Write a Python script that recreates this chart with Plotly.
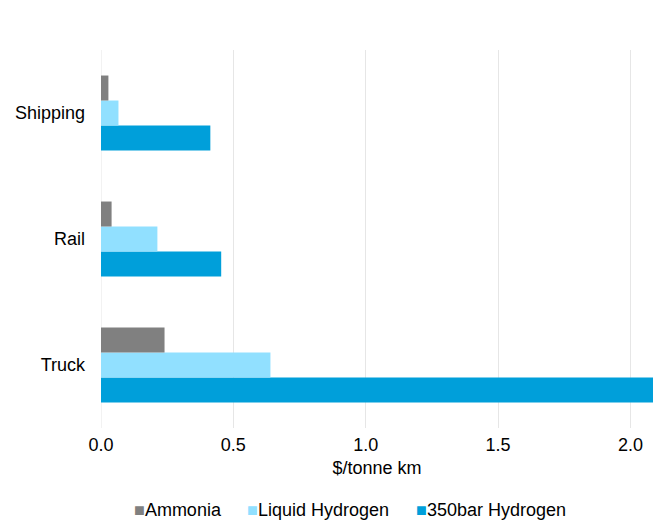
import plotly.graph_objects as go

categories = ["Truck", "Rail", "Shipping"]
ammonia = [0.24, 0.04, 0.028]
liquid_h2 = [0.64, 0.213, 0.066]
h2_350bar = [2.2, 0.454, 0.413]

tick_vals = [0.0, 0.5, 1.0, 1.5, 2.0]
tick_text = ["0.0", "0.5", "1.0", "1.5", "2.0"]

series_names = ["Ammonia", "Liquid Hydrogen", "350bar Hydrogen"]
series_colors = ["#808080", "#91E0FF", "#009FDA"]

font_family = "Liberation Sans, Arial, sans-serif"
FS = 18

W, H = 653, 523
ML, MR, MT, MB = 101, 0, 50, 95

fig = go.Figure()
# Traces are added bottom-to-top within each group.
for name, vals, col in [(series_names[2], h2_350bar, series_colors[2]),
                        (series_names[1], liquid_h2, series_colors[1]),
                        (series_names[0], ammonia, series_colors[0])]:
    fig.add_trace(go.Bar(y=categories, x=vals, name=name, orientation="h",
                         marker=dict(color=col, line=dict(width=0)),
                         showlegend=False))

# Compact legend row beneath the axis title
legend_x_px = [132, 245, 414]
for name, col, px in zip(series_names, series_colors, legend_x_px):
    fig.add_annotation(
        xref="paper", yref="paper",
        x=(px - ML) / (W - ML - MR), y=-(510 - (H - MB)) / (H - MT - MB),
        xanchor="left", yanchor="middle", showarrow=False,
        text=f'<span style="color:{col}">■</span>{name}',
        font=dict(size=FS, color="#000000", family=font_family),
    )

fig.update_layout(
    width=W, height=H,
    barmode="group", bargap=0.405, bargroupgap=0,
    plot_bgcolor="white", paper_bgcolor="white",
    margin=dict(l=ML, r=MR, t=MT, b=MB),
    font=dict(family=font_family, size=FS, color="#000000"),
    showlegend=False,
    xaxis=dict(range=[0, 2.085], tickvals=tick_vals, ticktext=tick_text,
               showgrid=True, gridcolor="#E6E6E6", gridwidth=1,
               zeroline=False, showline=False, ticks="",
               ticklabelstandoff=4,
               title=dict(text="$/tonne km", font=dict(size=FS), standoff=7)),
    yaxis=dict(showgrid=False, zeroline=False, showline=False, ticks="",
               ticklabelstandoff=15),
)
fig.add_shape(type="line", xref="x", yref="paper", x0=0, x1=0, y0=0, y1=1,
              line=dict(color="#E6E6E6", width=1), layer="below")

fig.write_html("out.html")
